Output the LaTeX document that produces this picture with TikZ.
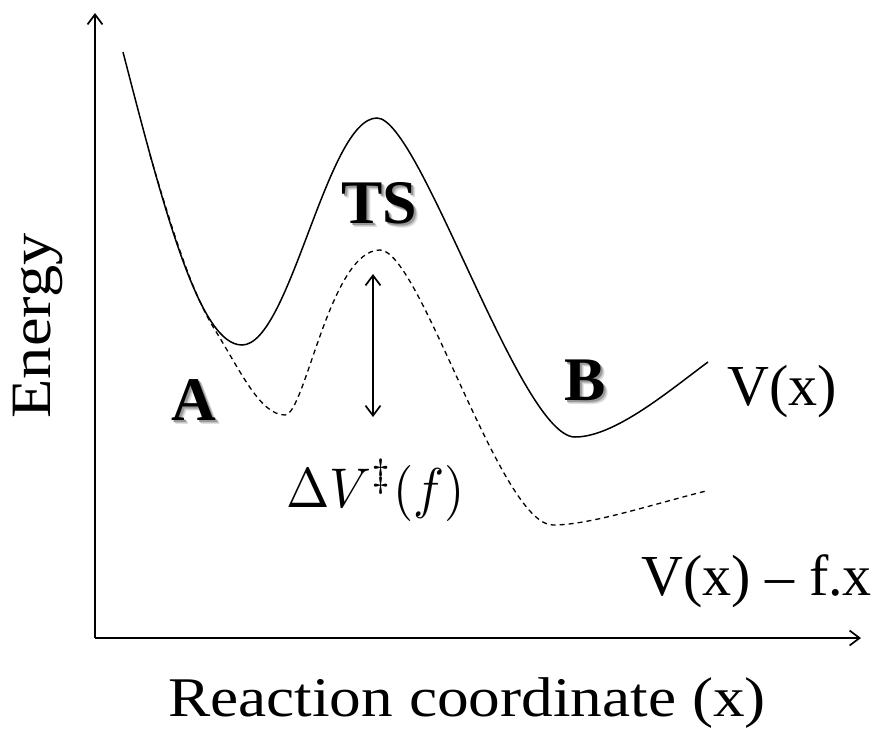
\documentclass[tikz,border=0pt]{standalone}
\usepackage{fontspec}
\setmainfont{Liberation Serif}
\usetikzlibrary{arrows.meta}
\newcommand\shadowed[1]{\leavevmode
  \rlap{\hspace{4pt}\raisebox{-4pt}{\color{black!12}#1}}%
  \rlap{\hspace{3pt}\raisebox{-3pt}{\color{black!22}#1}}%
  \rlap{\hspace{2pt}\raisebox{-2pt}{\color{black!40}#1}}%
  #1}
\tikzset{
  tip/.tip={Straight Barb[length=10pt,width=15pt,line width=1.7pt]},
  axis/.style={line width=1.3pt,-tip},
  solidcurve/.style={line width=1.5pt},
  dashcurve/.style={line width=1.3pt, dash pattern=on 5pt off 4pt},
  dbl/.style={line width=1.5pt,tip-tip},
  boldlbl/.style={anchor=base, font=\fontsize{62}{66}\selectfont\bfseries},
  lbl/.style={anchor=base west, font=\fontsize{58}{62}\selectfont},
}
\begin{document}
\begin{tikzpicture}[x=1pt,y=-1pt]
\useasboundingbox (0,0) rectangle (885,729);
\coordinate (o) at (95,638);
\coordinate (ytop) at (95,13);
\coordinate (xend) at (861,638);
\draw[axis] (o) -- (ytop);
\draw[axis] (o) -- (xend);
% solid V(x)
\draw[solidcurve] (123,52) .. controls (165,215) and (200,345) .. (242,345)
  .. controls (290,345) and (327,118) .. (377,118)
  .. controls (420,118) and (520,437) .. (575,437)
  .. controls (615,437) and (670,390) .. (708,362);
% dashed V(x)-f.x
\draw[dashcurve] (150,155) .. controls (170,222) and (190,290) .. (215,330)
  .. controls (240,370) and (260,415) .. (285,415)
  .. controls (305,415) and (330,250) .. (380,250)
  .. controls (420,250) and (500,525) .. (553,525)
  .. controls (590,525) and (650,505) .. (706,491);
% double arrow
\coordinate (dtop) at (373,274);
\coordinate (dbot) at (373,417);
\draw[dbl] (dtop) -- (dbot);
% labels
\node[boldlbl] (ts) at (379,223) {\shadowed{TS}};
\node[boldlbl] (a) at (194,420) {\shadowed{A}};
\node[boldlbl] (b) at (585,400) {\shadowed{B}};
\node[lbl] (vx) at (724,405) {V(x)};
\node[lbl] (vfx) at (638,595) {V(x) – f.x};
\node[anchor=base west, inner sep=0pt] (dv) at (286,507)
  {\scalebox{5.2}[5.6]{$\Delta V^{\ddagger}(f)$}};
\node[anchor=base, font=\fontsize{56}{60}\selectfont] (rc) at (467,716)
  {\scalebox{1.13}[1]{Reaction coordinate (x)}};
\node[anchor=base, rotate=90, font=\fontsize{57}{60}\selectfont] (en) at (50,326)
  {\scalebox{1.13}[1]{Energy}};
\end{tikzpicture}
\end{document}
